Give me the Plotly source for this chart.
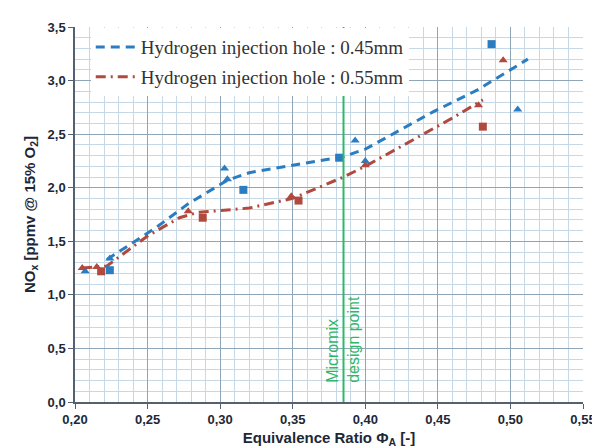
import plotly.graph_objects as go

# ---- data ----
blue_line_x = [0.222, 0.255, 0.278, 0.305, 0.320, 0.385, 0.400, 0.447, 0.477, 0.512]
blue_line_y = [1.33, 1.62, 1.85, 2.07, 2.14, 2.29, 2.36, 2.71, 2.91, 3.20]

red_line_x = [0.205, 0.222, 0.250, 0.272, 0.285, 0.300, 0.320, 0.350, 0.385, 0.400, 0.440, 0.460, 0.481]
red_line_y = [1.25, 1.27, 1.55, 1.72, 1.77, 1.79, 1.81, 1.90, 2.10, 2.20, 2.50, 2.65, 2.82]

blue_sq_x = [0.224, 0.316, 0.382, 0.487]
blue_sq_y = [1.23, 1.98, 2.28, 3.34]
blue_tri_x = [0.207, 0.224, 0.303, 0.305, 0.393, 0.400, 0.505]
blue_tri_y = [1.22, 1.34, 2.18, 2.08, 2.44, 2.25, 2.73]

red_sq_x = [0.218, 0.288, 0.354, 0.481]
red_sq_y = [1.22, 1.72, 1.88, 2.57]
red_tri_x = [0.205, 0.215, 0.278, 0.349, 0.400, 0.478, 0.495]
red_tri_y = [1.25, 1.26, 1.78, 1.92, 2.21, 2.77, 3.19]

design_x = 0.385

series_names = ["Hydrogen injection hole : 0.45mm", "Hydrogen injection hole : 0.55mm"]

BLUE = "#2a7dc0"
RED = "#b04a3e"
GREEN = "#2fb86a"

fig = go.Figure()

fig.add_trace(go.Scatter(x=blue_line_x, y=blue_line_y, mode="lines", name=series_names[0],
                         legendgroup="a",
                         line=dict(color=BLUE, width=3, dash="9px,6px"), hoverinfo="skip"))
fig.add_trace(go.Scatter(x=red_line_x, y=red_line_y, mode="lines", name=series_names[1],
                         legendgroup="b",
                         line=dict(color=RED, width=3, dash="10px,5px,2px,5px"), hoverinfo="skip"))

fig.add_trace(go.Scatter(x=blue_sq_x, y=blue_sq_y, mode="markers", showlegend=False,
                         marker=dict(symbol="square", size=8, color=BLUE)))
fig.add_trace(go.Scatter(x=blue_tri_x, y=blue_tri_y, mode="markers", showlegend=False,
                         marker=dict(symbol="triangle-up", size=8, color=BLUE)))
fig.add_trace(go.Scatter(x=red_sq_x, y=red_sq_y, mode="markers", showlegend=False,
                         marker=dict(symbol="square", size=8, color=RED)))
fig.add_trace(go.Scatter(x=red_tri_x, y=red_tri_y, mode="markers", showlegend=False,
                         marker=dict(symbol="triangle-up", size=8, color=RED)))

fig.add_shape(type="line", x0=design_x, x1=design_x, y0=0, y1=3.5, xref="x", yref="y",
              line=dict(color=GREEN, width=2), layer="above")

fig.add_annotation(x=design_x, y=0.16, xref="x", yref="y", text="Micromix<br>design point",
                   textangle=-90, showarrow=False, xanchor="center", yanchor="bottom",
                   align="left", font=dict(family="Liberation Sans", size=16, color=GREEN))

tick_font = dict(family="Liberation Sans", size=13, color="#1c2838")
title_font = dict(family="Liberation Sans", size=15, color="#1c2838")

fig.update_layout(
    width=600, height=448,
    margin=dict(l=67, r=15, t=19, b=54),
    paper_bgcolor="white", plot_bgcolor="white",
    separators=",.",
    showlegend=True,
    legend=dict(x=0.031, y=0.997, xanchor="left", yanchor="top", bgcolor="white",
                font=dict(family="Liberation Serif", size=19, color="#333333"),
                tracegroupgap=2, itemwidth=40),
    xaxis=dict(range=[0.20, 0.55], dtick=0.05, tick0=0.2, tickformat=".2f",
               showgrid=True, gridcolor="#8ea6b8", gridwidth=1,
               minor=dict(dtick=0.01, showgrid=True, gridcolor="#c6d8e6", gridwidth=1),
               ticks="outside", ticklen=5, tickcolor="#556070",
               showline=True, linecolor="#556070", linewidth=1.5,
               zeroline=False, tickfont=tick_font,
               title=dict(text="<b>Equivalence Ratio Φ<sub>A</sub> [-]</b>", font=title_font, standoff=6)),
    yaxis=dict(range=[0, 3.5], dtick=0.5, tickformat=".1f",
               showgrid=True, gridcolor="#8ea6b8", gridwidth=1,
               minor=dict(dtick=0.1, showgrid=True, gridcolor="#c6d8e6", gridwidth=1),
               ticks="outside", ticklen=5, tickcolor="#556070",
               showline=True, linecolor="#556070", linewidth=1.5,
               zeroline=False, tickfont=tick_font,
               title=dict(text="<b>NO<sub>x</sub> [ppmv @ 15% O<sub>2</sub>]</b>", font=title_font, standoff=8)),
)

fig.update_xaxes(tickprefix="<b>", ticksuffix="</b>")
fig.update_yaxes(tickprefix="<b>", ticksuffix="</b>")

fig.write_html("out.html")
